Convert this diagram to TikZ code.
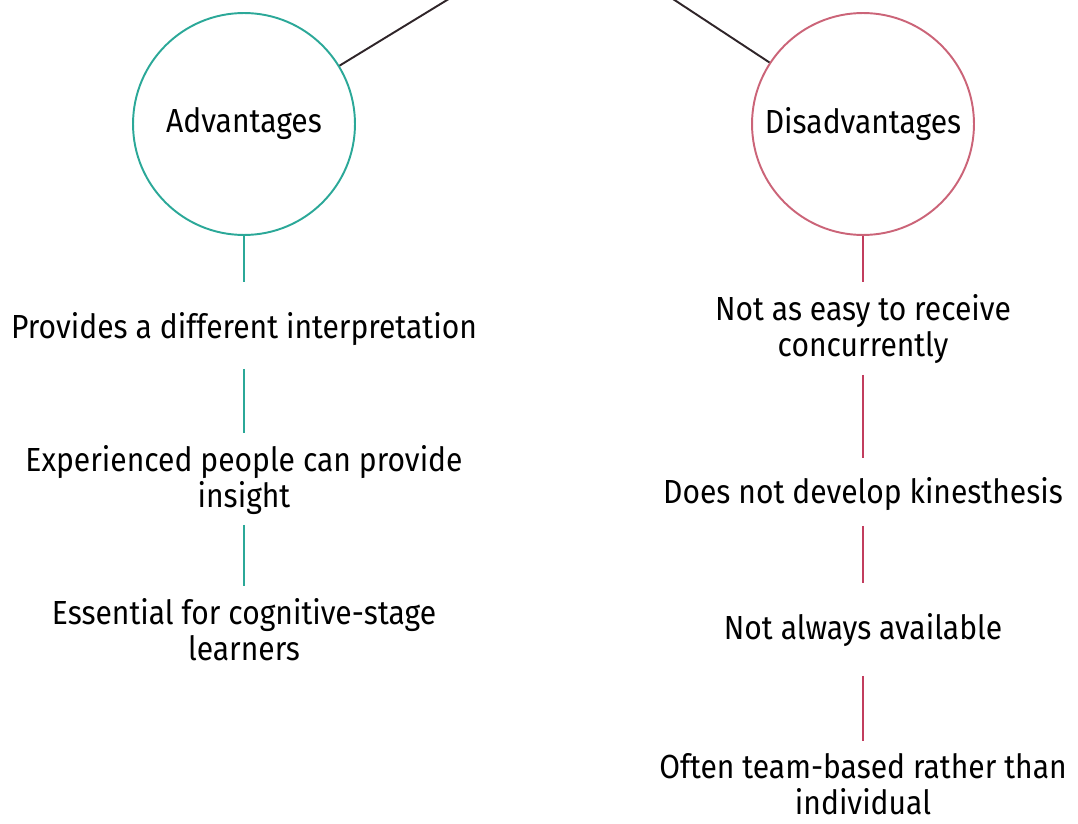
\documentclass[tikz,border=0pt]{standalone}
\usepackage{fontspec}
\setmainfont{Fira Sans}[FakeStretch=0.9]
\usetikzlibrary{positioning}
\definecolor{advcol}{HTML}{2BA898}
\definecolor{discol}{HTML}{CB6478}
\definecolor{disline}{HTML}{C23D5E}
\definecolor{rootcol}{HTML}{2F2529}
\tikzstyle{head} = [draw, circle, line width=1.1pt, minimum size=4.44cm, inner sep=0pt, font=\fontsize{19}{20.5}\selectfont]
\tikzstyle{item} = [align=center, inner sep=0pt, font=\fontsize{19}{20.5}\selectfont]
\tikzstyle{link} = [line width=1.1pt]

\begin{document}
\begin{tikzpicture}[x=0.02cm, y=-0.02cm]

\useasboundingbox (0,0) rectangle (1078,824);
\clip (0,0) rectangle (1078,824);

\coordinate (root) at (565,-72);
\node [head, draw=advcol] (adv) at (244,124) {Advantages};
\node [head, draw=discol] (dis) at (863,124) {Disadvantages};

\node [item] (adv1) at (244,329) {Provides a different interpretation};
\node [item] (adv2) at (244,480.5) {Experienced people can provide\\insight};
\node [item] (adv3) at (244,630) {Essential for cognitive-stage\\learners};

\node [item] (dis1) at (863,329.5) {Not as easy to receive\\concurrently};
\node [item] (dis2) at (863,494) {Does not develop kinesthesis};
\node [item] (dis3) at (863,630) {Not always available};
\node [item] (dis4) at (863,784) {Often team-based rather than\\individual};

\draw [link, rootcol] (root) -- (adv);
\draw [link, rootcol] (root) -- (dis);

\draw [link, advcol, shorten >=0.6cm] (adv) -- (adv1);
\draw [link, advcol, shorten <=0.46cm, shorten >=0.25cm] (adv1) -- (adv2);
\draw [link, advcol, shorten <=0.19cm, shorten >=0.24cm] (adv2) -- (adv3);

\draw [link, disline, shorten >=0.25cm] (dis) -- (dis1);
\draw [link, disline, shorten <=0.21cm, shorten >=0.38cm] (dis1) -- (dis2);
\draw [link, disline, shorten <=0.3cm, shorten >=0.6cm] (dis2) -- (dis3);
\draw [link, disline, shorten <=0.58cm, shorten >=0.24cm] (dis3) -- (dis4);

\end{tikzpicture}
\end{document}
